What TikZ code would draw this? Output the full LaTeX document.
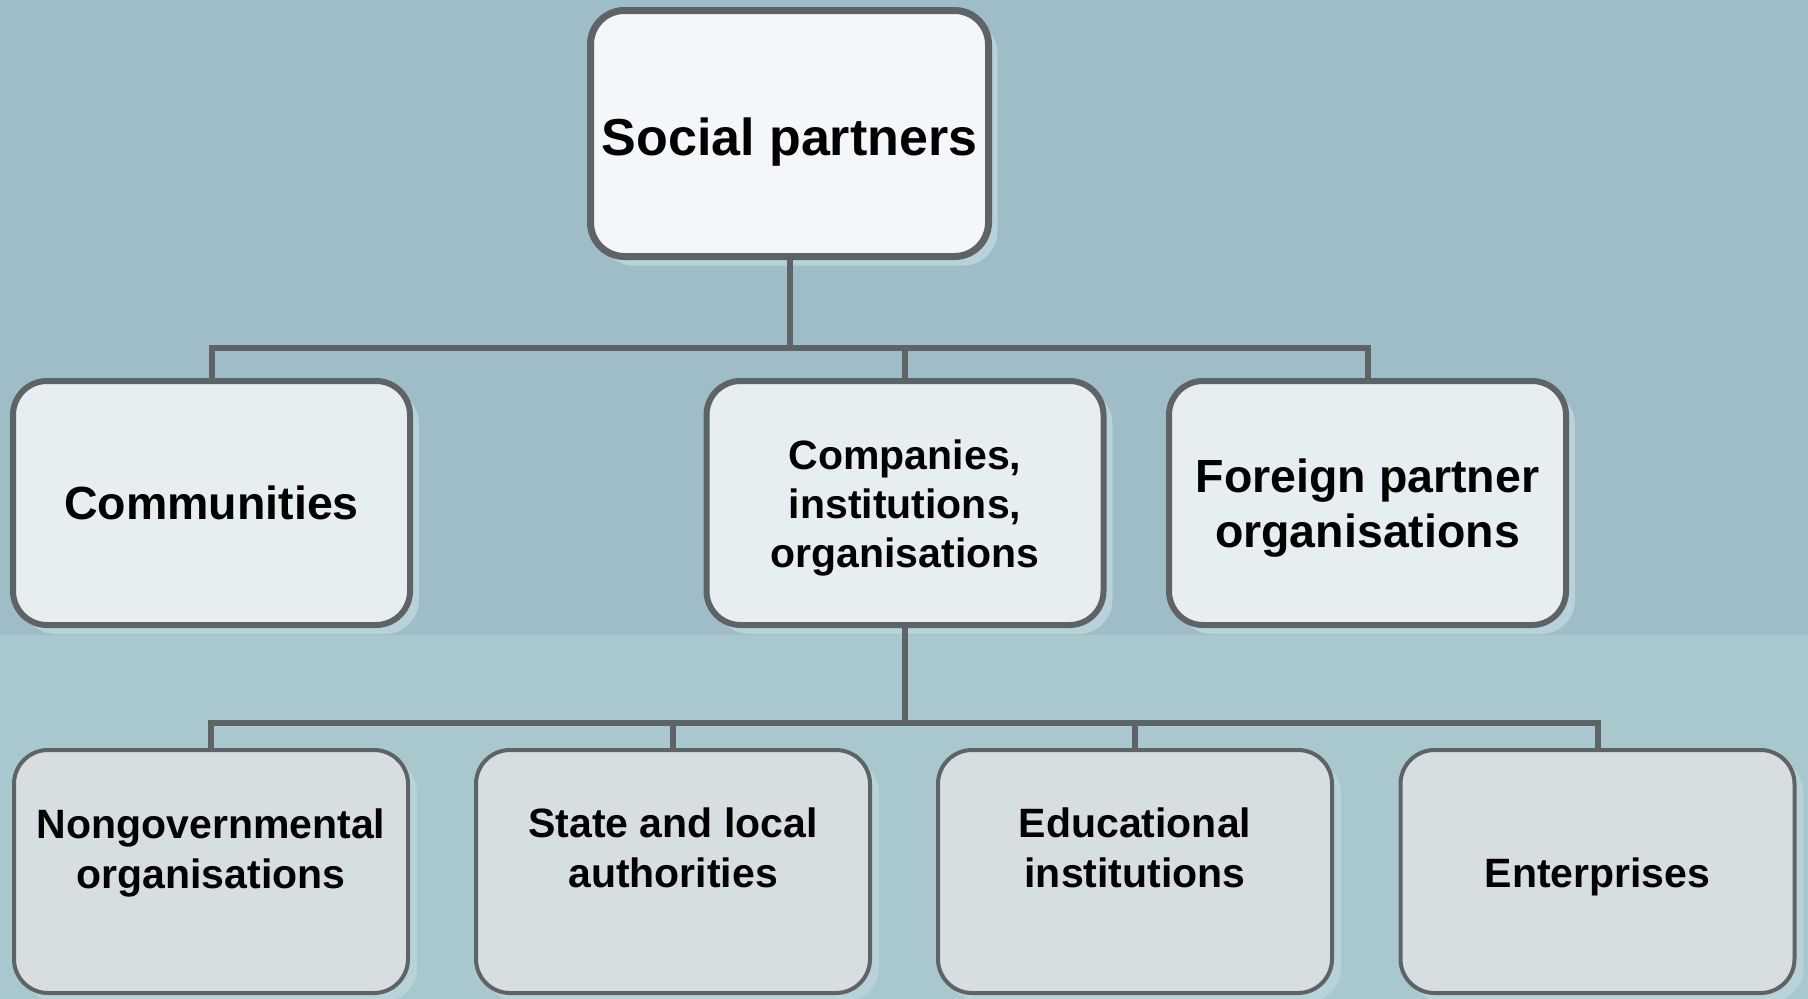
\documentclass[tikz,border=0pt]{standalone}
\usepackage{fontspec}
\setmainfont{Liberation Sans}
\usetikzlibrary{shadows}
\definecolor{bgtop}{HTML}{9EBDC6}
\definecolor{bgbot}{HTML}{A9C8CD}
\definecolor{edgecol}{HTML}{5E6365}
\definecolor{shadecol}{HTML}{B7D2D8}
\definecolor{fillA}{HTML}{F3F7F9}
\definecolor{fillB}{HTML}{E6EEF1}
\definecolor{fillC}{HTML}{D6DEE1}
\begin{document}
\begin{tikzpicture}[x=1pt,y=-1pt,
  box/.style={draw=edgecol, rounded corners=34pt, inner sep=0pt,
     drop shadow={shadow xshift=9pt, shadow yshift=-9pt, fill=shadecol, opacity=1}},
  topbox/.style={box, fill=fillA, line width=7pt, minimum width=398pt, minimum height=246pt},
  midbox/.style={box, fill=fillB, line width=6pt, minimum width=397pt, minimum height=244pt},
  lowbox/.style={box, fill=fillC, line width=4pt, minimum width=394pt, minimum height=243pt},
  lbl/.style={align=center, inner sep=0pt},
  toptext/.style={lbl, font=\fontsize{52}{62}\selectfont\bfseries},
  midtext/.style={lbl, font=\fontsize{46.5}{55}\selectfont\bfseries},
  smalltext/.style={lbl, font=\fontsize{41}{49}\selectfont\bfseries},
  lowtext/.style={lbl, font=\fontsize{41}{50}\selectfont\bfseries},
  link/.style={draw=edgecol, line width=6pt, line join=miter}]
\useasboundingbox (0,0) rectangle (1808,999);
\fill[bgtop] (0,0) rectangle (1808,635);
\fill[bgbot] (0,635) rectangle (1808,999);

\node[topbox] (sp) at (789.5,133.5) {};
\node[toptext] (spt) at ([yshift=-9pt]sp.center) {Social partners};

\node[midbox] (comm) at (211.5,503) {};
\node[midtext] (commt) at (comm.center) {Communities};
\node[midbox] (comp) at (905,503) {};
\node[smalltext] (compt) at ([yshift=-4.5pt]comp.center) {Companies,\\institutions,\\organisations};
\node[midbox] (forg) at (1367.5,503) {};
\node[midtext] (forgt) at ([yshift=-5.5pt]forg.center) {Foreign partner\\organisations};

\node[lowbox] (ngo) at (211,871.5) {};
\node[lowtext] (ngot) at ([yshift=19pt]ngo.center) {Nongovernmental\\organisations};
\node[lowbox] (state) at (673,871.5) {};
\node[lowtext] (statet) at ([yshift=23.5pt]state.center) {State and local\\authorities};
\node[lowbox] (edu) at (1135,871.5) {};
\node[lowtext] (edut) at ([yshift=23.5pt]edu.center) {Educational\\institutions};
\node[lowbox] (ent) at (1597.5,871.5) {};
\node[lowtext] (entt) at ([yshift=-5.5pt]ent.center) {Enterprises};

\coordinate (j1) at (789.5,348);
\coordinate (j2) at (905,723);

\draw[link] (sp.south) -- (j1);
\draw[link] (comm.north) |- (j1);
\draw[link] (forg.north) |- (j1);
\draw[link] (comp.north) -- (comp.north |- j1);

\draw[link] (comp.south) -- (j2);
\draw[link] (ngo.north) |- (j2);
\draw[link] (ent.north) |- (j2);
\draw[link] (state.north) -- (state.north |- j2);
\draw[link] (edu.north) -- (edu.north |- j2);
\end{tikzpicture}
\end{document}
